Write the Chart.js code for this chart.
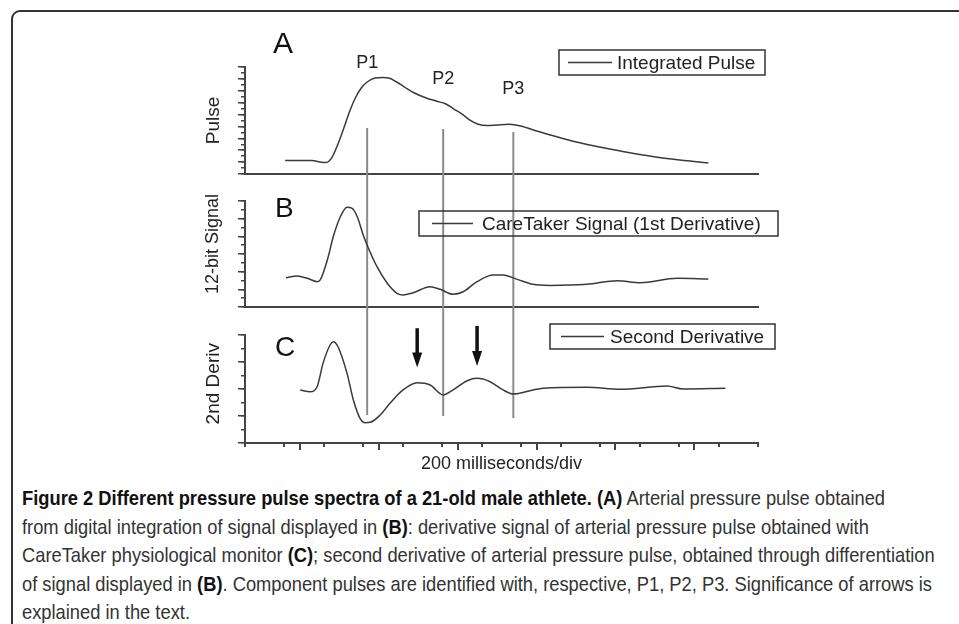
<!DOCTYPE html>
<html>
<head>
<meta charset="utf-8">
<script src="https://cdn.jsdelivr.net/npm/chart.js@4.4.1/dist/chart.umd.min.js"></script>
<style>
  html, body { margin: 0; padding: 0; background: #fff; }
  body { width: 959px; height: 624px; overflow: hidden; position: relative; font-family: "Liberation Sans", Arial, sans-serif; }
  .frame { position: absolute; left: 11px; top: 10px; width: 1000px; height: 700px; border: 2px solid #333; border-radius: 9px; }
  canvas { position: absolute; left: 0; }
  #caption { position: absolute; left: 22px; top: 484px; font-family: "Liberation Sans", Arial, sans-serif; font-size: 21px; line-height: 28.5px; color: #333; white-space: nowrap; transform: scaleX(0.872); transform-origin: left top; }
  #caption b { color: #111; }
</style>
</head>
<body>
<div class="frame"></div>
<canvas id="chartA" width="959" height="188" style="top:0px"></canvas>
<canvas id="chartB" width="959" height="133" style="top:188px"></canvas>
<canvas id="chartC" width="959" height="154" style="top:321px"></canvas>
<div id="caption"><b>Figure 2 Different pressure pulse spectra of a 21-old male athlete.</b> <b>(A)</b> Arterial pressure pulse obtained<br>from digital integration of signal displayed in <b>(B)</b>: derivative signal of arterial pressure pulse obtained with<br>CareTaker physiological monitor <b>(C)</b>; second derivative of arterial pressure pulse, obtained through differentiation<br>of signal displayed in <b>(B)</b>. Component pulses are identified with, respective, P1, P2, P3. Significance of arrows is<br>explained in the text.</div>
<script>
// time axis in ms, 200 ms per major division
const TIME_MIN = -140;
const TIME_MAX = 1162;

// A: integrated pulse (arbitrary units, 0-18)
const pulseTime  = [-38, 0, 30, 50, 66, 80, 95, 110, 125, 140, 155, 170, 190, 210, 225, 245, 265, 290, 320, 345, 370, 390, 410, 430, 450, 475, 500, 530, 560, 600, 640, 690, 760, 840, 920, 1000, 1036];
const pulseValue = [2.27, 2.27, 2.27, 2.02, 1.93, 2.7, 4.88, 7.58, 10.42, 12.78, 14.47, 15.48, 16.15, 16.24, 16.15, 15.48, 14.63, 13.63, 12.78, 12.28, 11.77, 10.93, 10.1, 9.09, 8.41, 8.15, 8.24, 8.35, 8.08, 7.24, 6.48, 5.54, 4.54, 3.53, 2.7, 2.11, 1.85];

// B: CareTaker signal, 1st derivative (0-12)
const signalTime  = [-36, -8, 18, 43, 51, 69, 84, 102, 119, 132, 145, 160, 173, 195, 221, 246, 261, 287, 330, 355, 388, 414, 449, 490, 515, 551, 591, 634, 728, 805, 863, 957, 1036];
const signalValue = [3.31, 3.5, 3.25, 2.87, 3.06, 5.32, 7.96, 10.22, 11.29, 11.17, 10.22, 8.15, 6.68, 4.56, 2.69, 1.55, 1.36, 1.62, 2.3, 2.0, 1.44, 1.73, 2.87, 3.62, 3.62, 3.13, 2.57, 2.44, 2.57, 2.98, 2.75, 3.25, 3.17];

// C: second derivative (0-8)
const derivTime  = [0, 25, 43, 58, 76, 84, 96, 119, 135, 152, 165, 178, 203, 228, 261, 297, 330, 363, 388, 424, 449, 482, 515, 541, 591, 617, 728, 812, 931, 972, 1079];
const derivValue = [3.93, 3.8, 4.17, 5.9, 7.26, 7.5, 7.13, 5.16, 3.19, 1.83, 1.5, 1.53, 2.07, 2.94, 3.93, 4.47, 4.3, 3.56, 3.93, 4.61, 4.79, 4.54, 3.93, 3.63, 3.93, 4.05, 4.13, 3.98, 4.22, 4.0, 4.05];

// component pulse markers
const markerTimes = [170, 363, 541];
const markerLabels = ["P1", "P2", "P3"];
const markerLabelLevel = [17.83, 15.14, 13.46];
const markerTopPulse = [7.74, 7.57, 7.07];
const markerBottomDeriv = [2.07, 2.0, 1.85];

// arrows in panel C
const arrowTimes = [297, 449];
const arrowTop = [8.5, 8.67];
const arrowTip = [5.6, 5.7];

Chart.defaults.font.family = '"Liberation Sans", Arial, sans-serif';
Chart.defaults.color = "#222";

const AXIS = "#444";

const decorPlugin = {
  id: "decor",
  beforeDatasetsDraw(chart, args, opts) {
    const { ctx, scales: { x, y } } = chart;
    ctx.save();
    ctx.strokeStyle = "#8a8a8a";
    ctx.lineWidth = 2;
    markerTimes.forEach((t, i) => {
      const px = x.getPixelForValue(t);
      const top = opts.markerTop ? y.getPixelForValue(opts.markerTop[i]) : 0;
      const bottom = opts.markerBottom ? y.getPixelForValue(opts.markerBottom[i]) : chart.height;
      ctx.beginPath();
      ctx.moveTo(px, top);
      ctx.lineTo(px, bottom);
      ctx.stroke();
    });
    ctx.restore();
  },
  afterDraw(chart, args, opts) {
    const { ctx, scales: { x, y } } = chart;
    ctx.save();

    // panel letter
    ctx.fillStyle = "#111";
    ctx.font = opts.letterSize + 'px "Liberation Sans", Arial, sans-serif';
    ctx.textBaseline = "alphabetic";
    ctx.textAlign = "left";
    ctx.fillText(opts.letter, opts.letterPos[0], opts.letterPos[1]);

    // legend box
    const lg = opts.legend;
    ctx.strokeStyle = "#333";
    ctx.lineWidth = 1.5;
    ctx.strokeRect(lg.box[0], lg.box[1], lg.box[2], lg.box[3]);
    const cy = lg.box[1] + lg.box[3] / 2;
    ctx.strokeStyle = "#3a3a3a";
    ctx.lineWidth = 1.5;
    ctx.beginPath();
    ctx.moveTo(lg.line[0], cy);
    ctx.lineTo(lg.line[1], cy);
    ctx.stroke();
    ctx.font = '19px "Liberation Sans", Arial, sans-serif';
    ctx.textBaseline = "middle";
    ctx.fillStyle = "#222";
    ctx.fillText(chart.data.datasets[0].label, lg.textX, cy + 1);

    // P labels
    if (opts.markerLabels) {
      ctx.font = '18px "Liberation Sans", Arial, sans-serif';
      ctx.textAlign = "center";
      ctx.textBaseline = "alphabetic";
      markerTimes.forEach((t, i) => {
        ctx.fillText(markerLabels[i], x.getPixelForValue(t), y.getPixelForValue(markerLabelLevel[i]));
      });
    }

    // arrows
    if (opts.arrows) {
      ctx.fillStyle = "#111";
      ctx.strokeStyle = "#111";
      arrowTimes.forEach((t, i) => {
        const px = x.getPixelForValue(t);
        const y0 = y.getPixelForValue(arrowTop[i]);
        const y1 = y.getPixelForValue(arrowTip[i]);
        ctx.lineWidth = 3.5;
        ctx.beginPath();
        ctx.moveTo(px, y0);
        ctx.lineTo(px, y1 - 12);
        ctx.stroke();
        ctx.beginPath();
        ctx.moveTo(px - 5, y1 - 15);
        ctx.lineTo(px + 5, y1 - 15);
        ctx.lineTo(px, y1);
        ctx.closePath();
        ctx.fill();
      });
    }
    ctx.restore();
  }
};

function makePanel(id, cfg) {
  const ctx = document.getElementById(id).getContext("2d");
  const scales = {
    x: {
      type: "linear",
      min: TIME_MIN,
      max: TIME_MAX,
      afterFit: (s) => { s.height = cfg.xHeight; },
      ticks: { display: false, stepSize: 200, includeBounds: false },
      grid: { drawOnChartArea: false, drawTicks: cfg.xTicks, tickLength: 7, color: AXIS, lineWidth: 2 },
      border: { display: true, color: AXIS, width: 2 },
      title: cfg.xTitle
        ? { display: true, text: cfg.xTitle, font: { size: 18 }, color: "#222", padding: 0 }
        : { display: false }
    },
    y: {
      type: "linear",
      min: 0,
      max: cfg.yMax,
      afterFit: (s) => { s.width = 43; },
      ticks: { display: false, stepSize: cfg.yMajor },
      grid: { drawOnChartArea: false, tickLength: 7, color: AXIS, lineWidth: 1.5 },
      border: { display: true, color: AXIS, width: 2 },
      title: { display: true, text: cfg.yTitle, font: { size: cfg.yTitleSize }, color: "#222", padding: 0 }
    },
    ym: {
      type: "linear",
      position: "left",
      weight: -1,
      min: 0,
      max: cfg.yMax,
      afterFit: (s) => { s.width = 0; },
      ticks: { display: false, stepSize: cfg.yMinor },
      grid: { drawOnChartArea: false, tickLength: 4, color: AXIS, lineWidth: 1.5 },
      border: { display: false }
    }
  };
  if (cfg.xTicks) {
    scales.xm = {
      type: "linear",
      position: "bottom",
      weight: -1,
      min: TIME_MIN,
      max: TIME_MAX,
      afterFit: (s) => { s.height = 0; },
      ticks: { display: false, stepSize: 100, includeBounds: false },
      grid: { drawOnChartArea: false, tickLength: 4, color: AXIS, lineWidth: 2 },
      border: { display: false }
    };
  }

  return new Chart(ctx, {
    type: "line",
    data: {
      datasets: [{
        label: cfg.label,
        data: cfg.time.map((t, i) => ({ x: t, y: cfg.values[i] })),
        borderColor: "#3a3a3a",
        borderWidth: 1.5,
        pointRadius: 0,
        cubicInterpolationMode: "monotone",
        fill: false
      }]
    },
    options: {
      responsive: false,
      animation: false,
      events: [],
      layout: { padding: { left: 202, right: 201, top: cfg.top, bottom: 0 } },
      plugins: {
        legend: { display: false },
        tooltip: { enabled: false },
        decor: cfg.decor
      },
      scales: scales
    },
    plugins: [decorPlugin]
  });
}

makePanel("chartA", {
  label: "Integrated Pulse",
  time: pulseTime, values: pulseValue,
  yTitle: "Pulse", yTitleSize: 19, yMax: 18, yMajor: 2, yMinor: 1,
  top: 67, xHeight: 14, xTicks: false,
  decor: {
    letter: "A", letterSize: 30, letterPos: [273, 53],
    legend: { box: [559, 50, 206, 25], line: [568, 612], textX: 617 },
    markerTop: markerTopPulse,
    markerLabels: true
  }
});

makePanel("chartB", {
  label: "CareTaker Signal (1st Derivative)",
  time: signalTime, values: signalValue,
  // leading spaces lift the rotated title toward the top, as in the figure
  yTitle: "    12-bit Signal", yTitleSize: 18, yMax: 12, yMajor: 2, yMinor: 1,
  top: 13, xHeight: 14, xTicks: false,
  decor: {
    letter: "B", letterSize: 28, letterPos: [275, 29],
    legend: { box: [419, 23, 359, 25], line: [432, 473], textX: 482 }
  }
});

makePanel("chartC", {
  label: "Second Derivative",
  time: derivTime, values: derivValue,
  yTitle: "  2nd Deriv", yTitleSize: 19, yMax: 8, yMajor: 2, yMinor: 1,
  top: 14, xHeight: 32, xTicks: true, xTitle: "200 milliseconds/div",
  decor: {
    letter: "C", letterSize: 28, letterPos: [275, 35],
    legend: { box: [550, 3, 225, 25], line: [561, 604], textX: 610 },
    markerBottom: markerBottomDeriv,
    arrows: true
  }
});
</script>
</body>
</html>
